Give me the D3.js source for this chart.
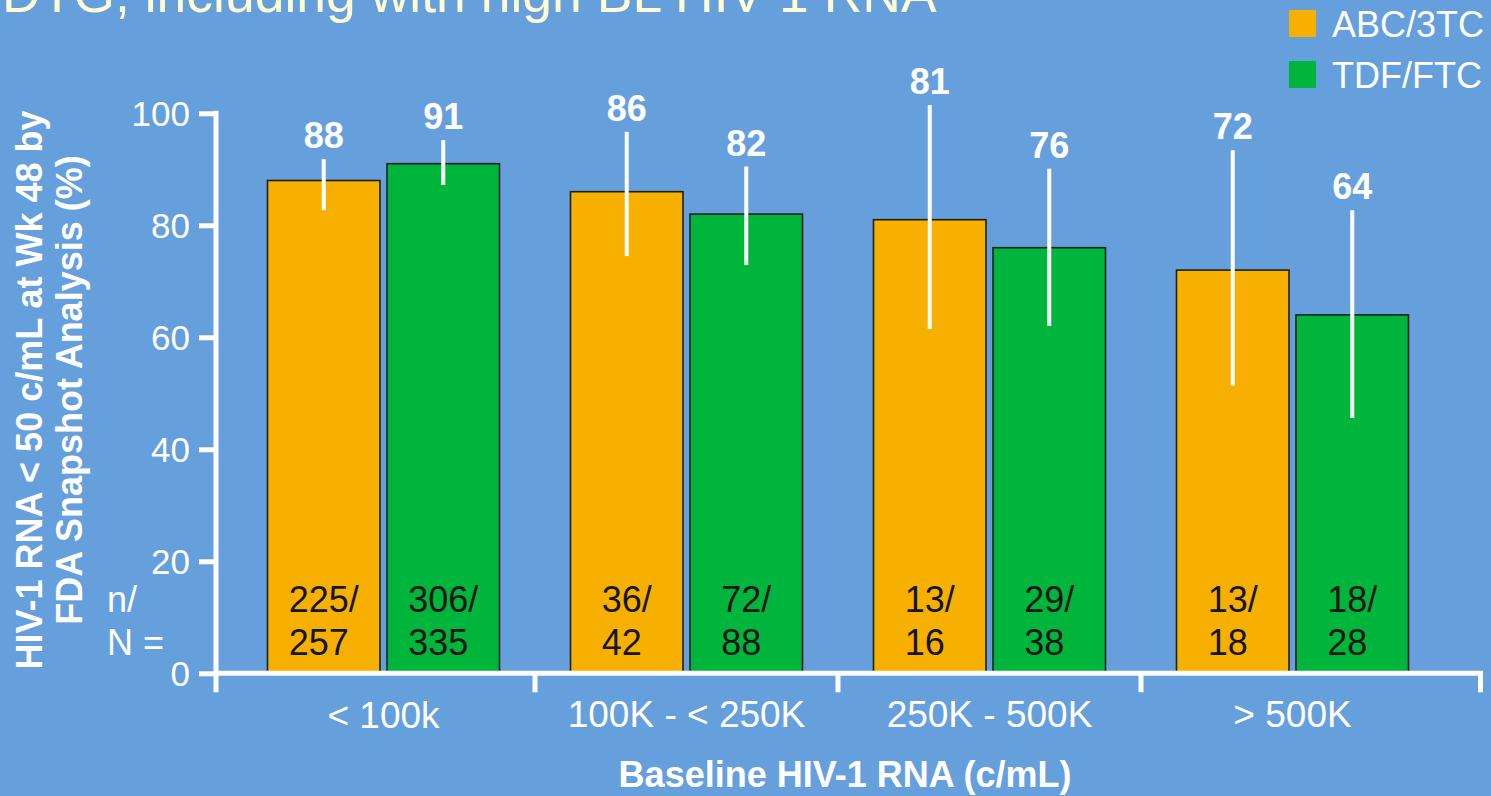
<!DOCTYPE html>
<html>
<head>
<meta charset="utf-8">
<script src="https://cdn.jsdelivr.net/npm/d3@7"></script>
<style>
  html, body { margin: 0; padding: 0; background: #66a0dc; }
  svg { display: block; }
  text { font-family: "Liberation Sans", Arial, Helvetica, sans-serif; }
</style>
</head>
<body>
<svg id="chart" width="1491" height="796"></svg>
<script>
// Virologic response by baseline viral load
const categories = ["< 100k", "100K - < 250K", "250K - 500K", "> 500K"];
const seriesNames = ["ABC/3TC", "TDF/FTC"];
const seriesColors = ["#f8b000", "#00b53c"];

const abcValues = [88, 86, 81, 72];
const tdfValues = [91, 82, 76, 64];

// 95% confidence limits
const abcLower = [82.7, 74.5, 61.5, 51.4];
const abcUpper = [91.8, 96.7, 101.5, 93.4];
const tdfLower = [87.2, 72.9, 62.0, 45.6];
const tdfUpper = [95.2, 90.5, 90.1, 82.7];

// responders / total
const abcN = ["225", "36", "13", "13"];
const abcTotal = ["257", "42", "16", "18"];
const tdfN = ["306", "72", "29", "18"];
const tdfTotal = ["335", "88", "38", "28"];

const yTicks = [0, 20, 40, 60, 80, 100];

const W = 1491, H = 796;
const svg = d3.select("#chart");
svg.append("rect").attr("width", W).attr("height", H).attr("fill", "#66a0dc");

const axisLeftX = 216, axisRightX = 1483;
const y = d3.scaleLinear().domain([0, 100]).range([673.3, 113.3]);
const x0 = d3.scaleBand().domain(categories).range([232, 1444]).padding(0);
const x1 = d3.scaleBand().domain(seriesNames).range([35.5, x0.step() - 35.5]).paddingInner(0.0588).paddingOuter(0);

const rows = categories.map((c, i) => ({
  cat: c,
  bars: [
    { s: seriesNames[0], v: abcValues[i], lo: abcLower[i], hi: abcUpper[i], n: abcN[i], N: abcTotal[i] },
    { s: seriesNames[1], v: tdfValues[i], lo: tdfLower[i], hi: tdfUpper[i], n: tdfN[i], N: tdfTotal[i] }
  ]
}));
const color = d3.scaleOrdinal().domain(seriesNames).range(seriesColors);

// Slide title, running off the top edge
svg.append("text").attr("x", 2).attr("y", 12)
  .attr("font-size", 53.5).attr("fill", "#fffbd2")
  .text("DTG, including with high BL HIV-1 RNA");

// Legend
const legend = svg.append("g");
seriesNames.forEach((s, i) => {
  const g = legend.append("g").attr("transform", `translate(1289,${10 + i * 51})`);
  g.append("rect").attr("width", 27).attr("height", 27).attr("fill", color(s));
  g.append("text").attr("x", 43).attr("y", 26.5).attr("font-size", 36).attr("fill", "#fff").text(s);
});

// Bars
const groups = svg.append("g").selectAll("g.grp").data(rows).join("g")
  .attr("class", "grp").attr("transform", d => `translate(${x0(d.cat)},0)`);

groups.selectAll("rect").data(d => d.bars).join("rect")
  .attr("x", d => x1(d.s))
  .attr("y", d => y(d.v))
  .attr("width", x1.bandwidth())
  .attr("height", d => y(0) - y(d.v))
  .attr("fill", d => color(d.s))
  .attr("stroke", "#1f1f1f").attr("stroke-width", 1.6);

// Error bars
groups.selectAll("line.err").data(d => d.bars).join("line")
  .attr("class", "err")
  .attr("x1", d => x1(d.s) + x1.bandwidth() / 2)
  .attr("x2", d => x1(d.s) + x1.bandwidth() / 2)
  .attr("y1", d => y(d.lo)).attr("y2", d => y(d.hi))
  .attr("stroke", "#fff").attr("stroke-width", 4);

// Value labels
groups.selectAll("text.val").data(d => d.bars).join("text")
  .attr("class", "val")
  .attr("x", d => x1(d.s) + x1.bandwidth() / 2)
  .attr("y", d => y(d.hi) - 11)
  .attr("text-anchor", "middle").attr("font-size", 36).attr("font-weight", "bold")
  .attr("fill", "#fff").text(d => d.v);

// n/N labels inside the bars
groups.selectAll("text.nn").data(d => d.bars).join("text")
  .attr("class", "nn").attr("font-size", 36).attr("fill", "#151515")
  .each(function (d) {
    const t = d3.select(this);
    const cx = x1(d.s) + x1.bandwidth() / 2;
    const a = t.append("tspan").attr("y", y(0) - 61).text(d.n + "/");
    const b = t.append("tspan").attr("y", y(0) - 18).text(d.N);
    const w = Math.max(a.node().getComputedTextLength(), b.node().getComputedTextLength());
    a.attr("x", cx - w / 2);
    b.attr("x", cx - w / 2);
  });

svg.append("text").attr("font-size", 36).attr("fill", "#fff")
  .call(t => {
    t.append("tspan").attr("x", 107).attr("y", y(0) - 61).text("n/");
    t.append("tspan").attr("x", 107).attr("y", y(0) - 18).text("N =");
  });

// Y axis
const yAxis = svg.append("g").attr("transform", `translate(${axisLeftX},0)`)
  .call(d3.axisLeft(y).tickValues(yTicks).tickSize(17).tickPadding(9));
yAxis.select(".domain").remove();
yAxis.selectAll(".tick line").attr("stroke", "#fff").attr("stroke-width", 5);
yAxis.selectAll(".tick text").attr("fill", "#fff").attr("font-size", 35)
  .attr("font-family", "'Liberation Sans', Arial, sans-serif").attr("dy", "0.36em");
svg.append("line").attr("x1", axisLeftX).attr("x2", axisLeftX)
  .attr("y1", y(100) - 2.5).attr("y2", y(0) + 19)
  .attr("stroke", "#fff").attr("stroke-width", 5);

// X axis
svg.append("line").attr("x1", axisLeftX).attr("x2", axisRightX)
  .attr("y1", y(0)).attr("y2", y(0)).attr("stroke", "#fff").attr("stroke-width", 5);
const xTickPos = [axisLeftX]
  .concat(categories.slice(1).map(c => x0(c)))
  .concat([axisRightX - 2.5]);
svg.append("g").selectAll("line").data(xTickPos.slice(1)).join("line")
  .attr("x1", d => d).attr("x2", d => d)
  .attr("y1", y(0)).attr("y2", y(0) + 19)
  .attr("stroke", "#fff").attr("stroke-width", 5);

svg.append("g").selectAll("text").data(categories).join("text")
  .attr("x", d => x0(d) + x0.step() / 2)
  .attr("y", (d, i) => i === 0 ? 728 : 727)
  .attr("text-anchor", "middle").attr("font-size", 37).attr("fill", "#fff")
  .text(d => d);

// Axis titles
svg.append("text").attr("x", 845).attr("y", 787)
  .attr("text-anchor", "middle").attr("font-size", 36).attr("font-weight", "bold")
  .attr("fill", "#fff").text("Baseline HIV-1 RNA (c/mL)");

const yTitle = svg.append("text").attr("transform", "translate(0,390) rotate(-90)")
  .attr("text-anchor", "middle").attr("font-size", 36).attr("font-weight", "bold").attr("fill", "#fff");
yTitle.append("tspan").attr("x", 0).attr("y", 42).text("HIV-1 RNA < 50 c/mL at Wk 48 by");
yTitle.append("tspan").attr("x", 0).attr("y", 82).text("FDA Snapshot Analysis (%)");
</script>
</body>
</html>
